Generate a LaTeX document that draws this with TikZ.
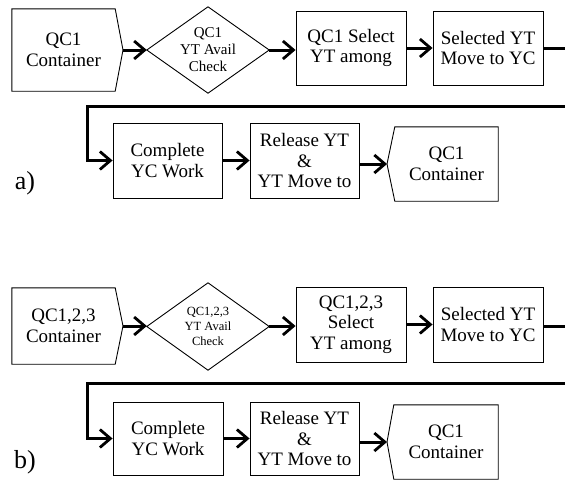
\documentclass[tikz,border=0pt]{standalone}
\usepackage{fontspec}
\setmainfont{Liberation Serif}
\usetikzlibrary{arrows.meta}
\tikzset{
  txt/.style={shape=rectangle, inner sep=0pt, align=center, font=\fontsize{19}{20.5}\selectfont},
  boxn/.style={txt, draw, line width=0.9pt},
  outline/.style={draw, line width=0.9pt, line join=miter},
  dtxt/.style={shape=rectangle, inner sep=0pt, align=center},
  conn/.style={line width=3pt},
  arr/.style={conn, -{Straight Barb[length=10.5pt,width=18pt,line width=2.8pt]}},
  lab/.style={inner sep=0pt, font=\fontsize{26}{28}\selectfont}
}
\begin{document}
\begin{tikzpicture}[x=1pt,y=-1pt]
\fill[white] (0,0) rectangle (565,482);
\useasboundingbox (0,0) rectangle (565,482);

% ---------- panel a ----------
\node[txt, minimum width=103pt, minimum height=82pt] (a1) at (63.5,50) {QC1\\Container};
\coordinate (a1tip) at (123,50);
\draw[outline] (a1.north west) -- (a1.north east) -- (a1tip) -- (a1.south east) -- (a1.south west) -- cycle;

\node[dtxt, minimum width=122pt, minimum height=86pt, font=\fontsize{15}{17}\selectfont] (a2) at (208,50) {QC1\\YT Avail\\Check};
\draw[outline] (a2.north) -- (a2.east) -- (a2.south) -- (a2.west) -- cycle;

\node[boxn, minimum width=110pt, minimum height=74pt] (a3) at (351,48) {QC1 Select\\YT among};
\node[boxn, minimum width=110pt, minimum height=74pt] (a4) at (488,48) {Selected YT\\Move to YC};
\coordinate (aR) at (565,48);

\node[boxn, minimum width=109pt, minimum height=75pt] (a5) at (167.5,160.5) {Complete\\YC Work};
\node[boxn, minimum width=109pt, minimum height=75pt] (a6) at (304.5,160.5) {Release YT\\\&\\YT Move to};
\node[txt, minimum width=103pt, minimum height=74pt] (a7) at (446.5,164) {QC1\\Container};
\coordinate (a7tip) at (387,164);
\draw[outline] (a7.north west) -- (a7.north east) -- (a7.south east) -- (a7.south west) -- (a7tip) -- cycle;

\coordinate (aL) at (565,106);
\coordinate (aK) at (87,106);

\draw[arr] (a1tip) -- (a2.west);
\draw[arr] (a2.east) -- (a2.east -| a3.west);
\draw[arr] (a3.east) -- (a4.west);
\draw[conn] (a4.east) -- (aR);
\draw[arr] (aL) -- (aK) |- (a5.west);
\draw[arr] (a5.east) -- (a6.west);
\draw[arr] (a6.east |- a7tip) -- (a7tip);

\node[lab] (la) at (25,183) {a)};

% ---------- panel b ----------
\node[txt, minimum width=103pt, minimum height=76pt] (b1) at (63.5,326) {QC1,2,3\\Container};
\coordinate (b1tip) at (123,326);
\draw[outline] (b1.north west) -- (b1.north east) -- (b1tip) -- (b1.south east) -- (b1.south west) -- cycle;

\node[dtxt, minimum width=122pt, minimum height=87pt, font=\fontsize{12.5}{15}\selectfont] (b2) at (208,326.5) {QC1,2,3\\YT Avail\\Check};
\draw[outline] (b2.north) -- (b2.east) -- (b2.south) -- (b2.west) -- cycle;

\node[boxn, minimum width=110pt, minimum height=75pt] (b3) at (351,324.5) {QC1,2,3\\Select\\YT among};
\node[boxn, minimum width=110pt, minimum height=75pt] (b4) at (488,324.5) {Selected YT\\Move to YC};
\coordinate (bR) at (565,326);

\node[boxn, minimum width=110pt, minimum height=73pt] (b5) at (168,438.5) {Complete\\YC Work};
\node[boxn, minimum width=109pt, minimum height=73pt] (b6) at (304.5,438.5) {Release YT\\\&\\YT Move to};
\node[txt, minimum width=104pt, minimum height=74pt] (b7) at (446,442) {QC1\\Container};
\coordinate (b7tip) at (387,442);
\draw[outline] (b7.north west) -- (b7.north east) -- (b7.south east) -- (b7.south west) -- (b7tip) -- cycle;

\coordinate (bL) at (565,383);
\coordinate (bK) at (87,383);

\draw[arr] (b1tip) -- (b1tip -| b2.west);
\draw[arr] (b2.east |- b1tip) -- (b1tip -| b3.west);
\draw[arr] (b3.east) -- (b4.west);
\draw[conn] (b4.east |- bR) -- (bR);
\draw[arr] (bL) -- (bK) |- (b5.west);
\draw[arr] (b5.east) -- (b6.west);
\draw[arr] (b6.east |- b7tip) -- (b7tip);

\node[lab] (lb) at (25,462) {b)};
\end{tikzpicture}
\end{document}
